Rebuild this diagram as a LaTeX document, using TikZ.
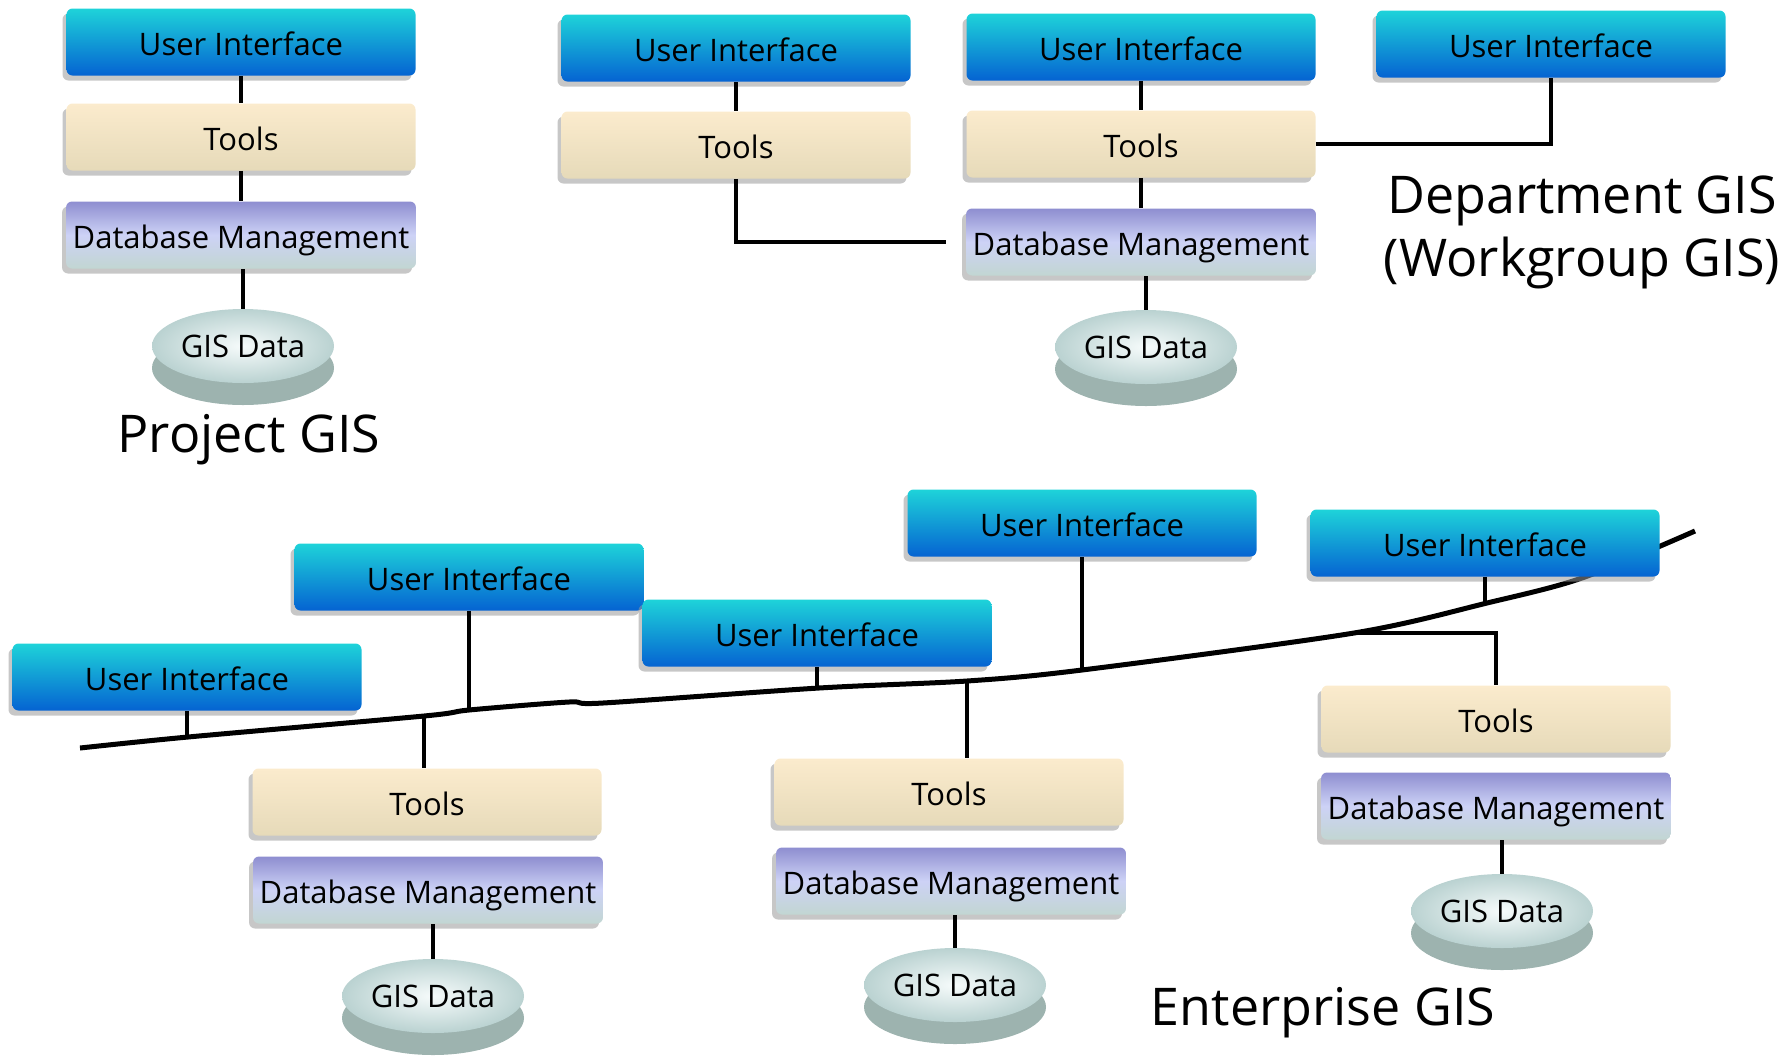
\documentclass[tikz,border=0pt]{standalone}
\usepackage{fontspec}
\setmainfont{Open Sans}
\usepackage{tikz}
\usepackage{xcolor}
\usetikzlibrary{shapes.geometric, positioning, shadows}

\definecolor{uitop}{HTML}{1ED3D9}
\definecolor{uibot}{HTML}{0563D2}
\definecolor{tooltop}{HTML}{FBEBCD}
\definecolor{toolbot}{HTML}{E6DAB9}
\definecolor{dbtop}{HTML}{8E8ED0}
\definecolor{dbmid}{HTML}{CDD2F6}
\definecolor{dbbot}{HTML}{C2D6D2}
\definecolor{diskin}{HTML}{F6FBFB}
\definecolor{diskout}{HTML}{BAD2D1}
\definecolor{diskside}{HTML}{9DB3AF}

\begin{document}
\begin{tikzpicture}[x=0.5pt, y=-0.5pt,
  layer/.style={rectangle, rounded corners=3pt, minimum width=174.5pt, minimum height=33.5pt,
    text height=15pt, text depth=2pt, font=\fontsize{15.5}{19}\selectfont,
    drop shadow={shadow xshift=-2pt, shadow yshift=-2.5pt, fill=black!40, opacity=0.55}},
  uibox/.style={layer, top color=uitop, bottom color=uibot},
  toolbox/.style={layer, top color=tooltop, bottom color=toolbot},
  dbbox/.style={layer, top color=dbtop, bottom color=dbbot, middle color=dbmid},
  gisdisk/.style={ellipse, inner sep=0pt, minimum width=91pt, minimum height=37pt,
    inner color=diskin, outer color=diskout, font=\fontsize{15.5}{19}\selectfont,
    drop shadow={shadow xshift=0pt, shadow yshift=-11pt, fill=diskside, opacity=1}},
  biglabel/.style={font=\fontsize{26}{31.5}\selectfont, align=center},
  link/.style={line width=2pt},
  bus/.style={line width=2.5pt}]
\useasboundingbox (0,0) rectangle (1784,1057);
%
% project GIS
\node[uibox] (ui1) at (241,42) {User Interface};
\node[toolbox] (tools1) at (241,137) {Tools};
\node[dbbox] (db1) at (241,235) {Database Management};
\node[gisdisk] (data1) at (243,346) {GIS Data};
\node[biglabel] (projlabel) at (249,440) {Project GIS};
\draw[link] (ui1) -- (tools1);
\draw[link] (tools1) -- (db1);
\draw[link] (data1.north) -- (data1 |- db1.south);
%
% department GIS
\node[uibox] (ui2) at (736,48) {User Interface};
\node[toolbox] (tools2) at (736,145) {Tools};
\node[uibox] (ui3) at (1141,47) {User Interface};
\node[toolbox] (tools3) at (1141,144) {Tools};
\node[dbbox] (db3) at (1141,242) {Database Management};
\node[gisdisk] (data3) at (1146,347) {GIS Data};
\node[uibox] (ui4) at (1551,44) {User Interface};
\node[biglabel] (deptlabel) at (1582,232) {Department GIS\\(Workgroup GIS)};
\draw[link] (ui2) -- (tools2);
\draw[link, shorten >=10pt] (tools2.south) |- (db3.west);
\draw[link] (ui3) -- (tools3);
\draw[link] (tools3) -- (db3);
\draw[link] (data3.north) -- (data3 |- db3.south);
\draw[link] (tools3.east) -| (ui4.south);
%
% enterprise GIS: the network
\coordinate (ba) at (188,737);
\coordinate (bbt) at (424,716);
\coordinate (bb) at (469,710);
\coordinate (bc) at (819,688);
\coordinate (bct) at (967,681);
\coordinate (bd) at (1082,670);
\coordinate (bet) at (1354,633);
\coordinate (be) at (1487,603);
\draw[bus] plot[smooth, tension=0.5] coordinates {(80,748) (ba) (bbt) (bb) (569,702) (603,703)
  (bc) (bct) (bd) (bet) (be) (1582,578) (1695,531)};
%
\node[uibox] (uia) at (187,677) {User Interface};
\node[uibox] (uib) at (469,577) {User Interface};
\node[toolbox] (toolsb) at (427,802) {Tools};
\node[dbbox] (dbb) at (428,890) {Database Management};
\node[gisdisk] (datab) at (433,996) {GIS Data};
\node[uibox] (uic) at (817,633) {User Interface};
\node[uibox] (uid) at (1082,523) {User Interface};
\node[toolbox] (toolsc) at (949,792) {Tools};
\node[dbbox] (dbc) at (951,881) {Database Management};
\node[gisdisk] (datac) at (955,985) {GIS Data};
\node[uibox] (uie) at (1485,543) {User Interface};
\node[toolbox] (toolse) at (1496,719) {Tools};
\node[dbbox] (dbe) at (1496,806) {Database Management};
\node[gisdisk] (datae) at (1502,911) {GIS Data};
\node[biglabel] (entlabel) at (1323,1013) {Enterprise GIS};
%
\draw[link] (uia.south) -- (uia.south |- ba);
\draw[link] (uib.south) -- (uib.south |- bb);
\draw[link] (bbt) -- (bbt |- toolsb.north);
\draw[link] (datab.north) -- (datab |- dbb.south);
\draw[link] (uic.south) -- (uic.south |- bc);
\draw[link] (uid.south) -- (uid.south |- bd);
\draw[link] (bct) -- (bct |- toolsc.north);
\draw[link] (datac.north) -- (datac |- dbc.south);
\draw[link] (uie.south) -- (uie.south |- be);
\draw[link] (bet) -| (toolse.north);
\draw[link] (datae.north) -- (datae |- dbe.south);
\end{tikzpicture}
\end{document}
